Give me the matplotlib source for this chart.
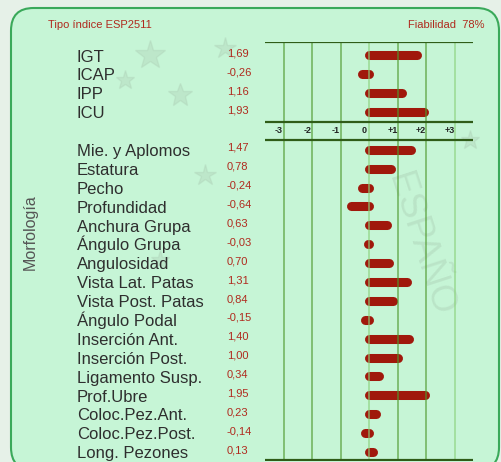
import matplotlib
matplotlib.use("Agg")
import matplotlib.pyplot as plt
from matplotlib.patches import FancyBboxPatch
from matplotlib.lines import Line2D
from matplotlib.transforms import blended_transform_factory

plt.rcParams["font.family"] = ["Liberation Sans", "DejaVu Sans"]

# datos
header_left = "Tipo índice ESP2511"
header_right = "Fiabilidad  78%"
group_label = "Morfología"

index_labels = ["IGT", "ICAP", "IPP", "ICU"]
index_values = [1.69, -0.26, 1.16, 1.93]

morph_labels = ["Mie. y Aplomos", "Estatura", "Pecho", "Profundidad",
                "Anchura Grupa", "Ángulo Grupa", "Angulosidad",
                "Vista Lat. Patas", "Vista Post. Patas", "Ángulo Podal",
                "Inserción Ant.", "Inserción Post.", "Ligamento Susp.",
                "Prof.Ubre", "Coloc.Pez.Ant.", "Coloc.Pez.Post.",
                "Long. Pezones"]
morph_values = [1.47, 0.78, -0.24, -0.64, 0.63, -0.03, 0.70, 1.31, 0.84,
                -0.15, 1.40, 1.00, 0.34, 1.95, 0.23, -0.14, 0.13]

tick_values = [-3, -2, -1, 0, 1, 2, 3]
tick_labels = ["-3", "-2", "-1", "0", "+1", "+2", "+3"]

W, H = 502, 462
BAR = "#a0180c"
TXT_RED = "#b02a1e"
GRID_DARK = "#4f9a2e"
GRID_LIGHT = "#8ad27a"
RULE = "#2f5c18"


def fx(px):
    return px / W


def fy(py):
    return 1 - py / H


fig = plt.figure(figsize=(W / 100, H / 100), dpi=100)
fig.patch.set_facecolor("#e6f1e8")

# fondo del panel
panel = FancyBboxPatch((fx(11), fy(470)), fx(488), (470 - 8) / H,
                       boxstyle="round,pad=0,rounding_size=0.045",
                       transform=fig.transFigure, facecolor="#c6f5d6",
                       edgecolor="#3aa95a", linewidth=1.5, zorder=-5,
                       mutation_aspect=W / H)
fig.patches.append(panel)

# marca de agua (muy tenue)
star_x = [150, 180, 225, 125, 205, 160, 470]
star_y = [55, 95, 48, 80, 175, 260, 140]
star_s = [22, 18, 16, 14, 16, 14, 14]
for sx, sy, ss in zip(star_x, star_y, star_s):
    fig.add_artist(Line2D([fx(sx)], [fy(sy)], marker="*", markersize=ss,
                          color="#a9c9b0", alpha=0.3, linestyle="none",
                          transform=fig.transFigure, zorder=-4))
fig.text(fx(420), fy(245), "ESPAÑO", fontsize=26, color="#9fbfa6", alpha=0.3,
         rotation=-72, ha="center", va="center", zorder=-4)

# ejes de las barras
ax_left, ax_right = 265, 473
ax_top, ax_bot = 42.3, 460.7
ax = fig.add_axes([fx(ax_left), fy(ax_bot), (ax_right - ax_left) / W,
                   (ax_bot - ax_top) / H])
ax.set_xlim(-3.67, 3.65)
row0, row_h = 55.3, 18.89
ax.set_ylim((ax_bot - row0) / row_h, (ax_top - row0) / row_h)
ax.axis("off")

rows_index = list(range(len(index_labels)))
rows_morph = [i + len(index_labels) + 1 for i in range(len(morph_labels))]

all_rows = rows_index + rows_morph
all_values = index_values + morph_values
all_labels = index_labels + morph_labels

for r, v in zip(all_rows, all_values):
    ax.plot([0, v], [r, r], color=BAR, lw=6.5, solid_capstyle="round", zorder=2)

for t in tick_values:
    c = GRID_LIGHT if t in (0, 3) else GRID_DARK
    ax.axvline(t, color=c, lw=1.1, alpha=0.75, zorder=3)

for py in (ax_top, 121.7, 140.0, ax_bot - 0.5):
    ax.axhline((py - row0) / row_h, color=RULE, lw=1.6, zorder=4)

axis_row = len(index_labels) + 0.12
for t, lab in zip(tick_values, tick_labels):
    ax.text(t - 0.18, axis_row, lab, fontsize=6.5, color="#222222",
            ha="center", va="baseline", fontweight="bold")

# etiquetas y valores
tr = blended_transform_factory(fig.transFigure, ax.transData)
for r, v, lab in zip(all_rows, all_values, all_labels):
    ax.text(fx(77), r + 0.33, lab, transform=tr, fontsize=12, color="#2e2e2e",
            ha="left", va="baseline", clip_on=False)
    ax.text(fx(227), r + 0.06, f"{v:.2f}".replace(".", ","), transform=tr,
            fontsize=8, color=TXT_RED, ha="left", va="baseline", clip_on=False)

fig.text(fx(48), fy(25), header_left, fontsize=8, color=TXT_RED,
         ha="left", va="center")
fig.text(fx(485), fy(25), header_right, fontsize=8, color=TXT_RED,
         ha="right", va="center")
fig.text(fx(30), fy(232), group_label, fontsize=11.5, color="#555555",
         rotation=90, ha="center", va="center")

fig.savefig("out.png", dpi=100, facecolor=fig.get_facecolor())
